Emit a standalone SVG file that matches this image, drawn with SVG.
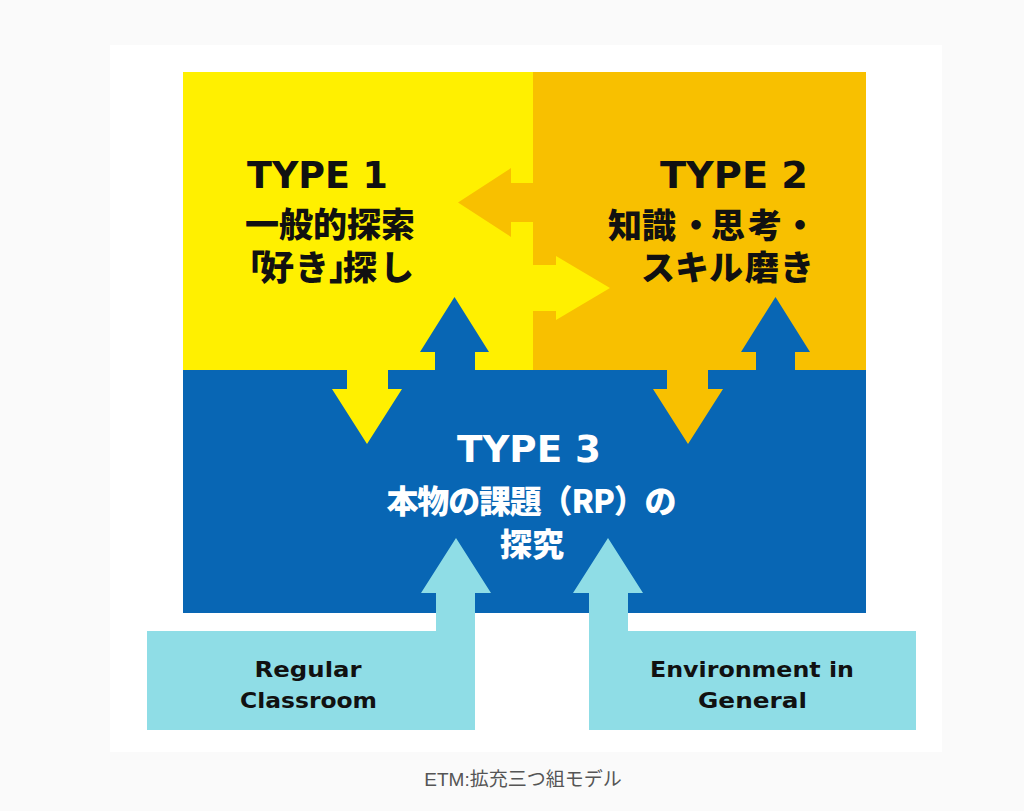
<svg xmlns="http://www.w3.org/2000/svg" width="1024" height="811" viewBox="0 0 1024 811">
<defs>
<style>
.title{font-family:"DejaVu Sans","Liberation Sans",sans-serif;font-weight:bold;font-size:38px;}
.jp{font-family:"Noto Sans CJK JP","Noto Sans CJK SC",sans-serif;font-weight:900;font-size:34px;}
.jp3{font-family:"Noto Sans CJK JP","Noto Sans CJK SC",sans-serif;font-weight:900;font-size:32px;}
.en{font-family:"DejaVu Sans","Liberation Sans",sans-serif;font-weight:bold;font-size:22px;fill:#111;}
.dark{fill:#111;}
.light{fill:#fff;}
.yellow{fill:#fff000;}
.orange{fill:#f8c000;}
.blue{fill:#0866b4;}
.sky{fill:#8fdde6;}
.caption{font-family:"Liberation Sans","Noto Sans CJK JP",sans-serif;font-size:19px;fill:#555;}
</style>
</defs>
<rect x="0" y="0" width="1024" height="811" fill="#fafafa"/>
<rect x="110" y="45" width="832" height="707" fill="#ffffff"/>

<g id="node-type1">
<rect class="yellow" x="183" y="72" width="350" height="298"/>
<text class="title dark" x="247" y="188" textLength="141" lengthAdjust="spacingAndGlyphs">TYPE 1</text>
<text class="jp dark"><tspan x="245" y="237">一般的探索</tspan><tspan x="231 260 295 329 343 380" y="280">「好き」探し</tspan></text>
</g>

<g id="node-type2">
<rect class="orange" x="533" y="72" width="333" height="298"/>
<text class="title dark" x="660" y="188" textLength="148" lengthAdjust="spacingAndGlyphs">TYPE 2</text>
<text class="jp dark"><tspan x="608 642 679 711 748 783" y="238">知識・思考・</tspan><tspan x="641 675 709 745 780" y="280">スキル磨き</tspan></text>
</g>

<g id="node-type3">
<rect class="blue" x="183" y="370" width="683" height="243"/>
<text class="title light" x="457" y="462" textLength="144" lengthAdjust="spacingAndGlyphs">TYPE 3</text>
<text class="jp3 light"><tspan x="531.5" y="513" text-anchor="middle" textLength="290" lengthAdjust="spacing">本物の課題（RP）の</tspan><tspan x="532" y="556" text-anchor="middle">探究</tspan></text>
</g>

<g id="node-regular">
<rect class="sky" x="147" y="631" width="328" height="99"/>
<text class="en"><tspan x="308" y="677" text-anchor="middle" textLength="107" lengthAdjust="spacingAndGlyphs">Regular</tspan><tspan x="308.5" y="708" text-anchor="middle" textLength="137" lengthAdjust="spacingAndGlyphs">Classroom</tspan></text>
</g>

<g id="node-environment">
<rect class="sky" x="589" y="631" width="327" height="99"/>
<text class="en"><tspan x="752" y="677" text-anchor="middle" textLength="204" lengthAdjust="spacingAndGlyphs">Environment in</tspan><tspan x="752.5" y="708" text-anchor="middle" textLength="109" lengthAdjust="spacingAndGlyphs">General</tspan></text>
</g>

<g id="connectors">
<polygon class="orange" points="533,183 511,183 511,168 458,202.5 511,237 511,222 533,222"/>
<polygon class="yellow" points="533,265 556,265 556,256 610,288 556,320 556,311 533,311"/>
<polygon class="yellow" points="347,370 388,370 388,389 402,389 367,444 332,389 347,389"/>
<polygon class="blue" points="435,370 435,352 420,352 454.5,297 489,352 475,352 475,370"/>
<polygon class="orange" points="667,370 708,370 708,389 723,389 688,444 653,389 667,389"/>
<polygon class="blue" points="756,370 756,352 741,352 775.5,297 810,352 795,352 795,370"/>
<polygon class="sky" points="436,631 436,593 421,593 456,538 491,593 475,593 475,631"/>
<polygon class="sky" points="628,631 628,593 643,593 608,538 573,593 589,593 589,631"/>
</g>

<text class="caption" x="523" y="786" text-anchor="middle">ETM:拡充三つ組モデル</text>
</svg>
